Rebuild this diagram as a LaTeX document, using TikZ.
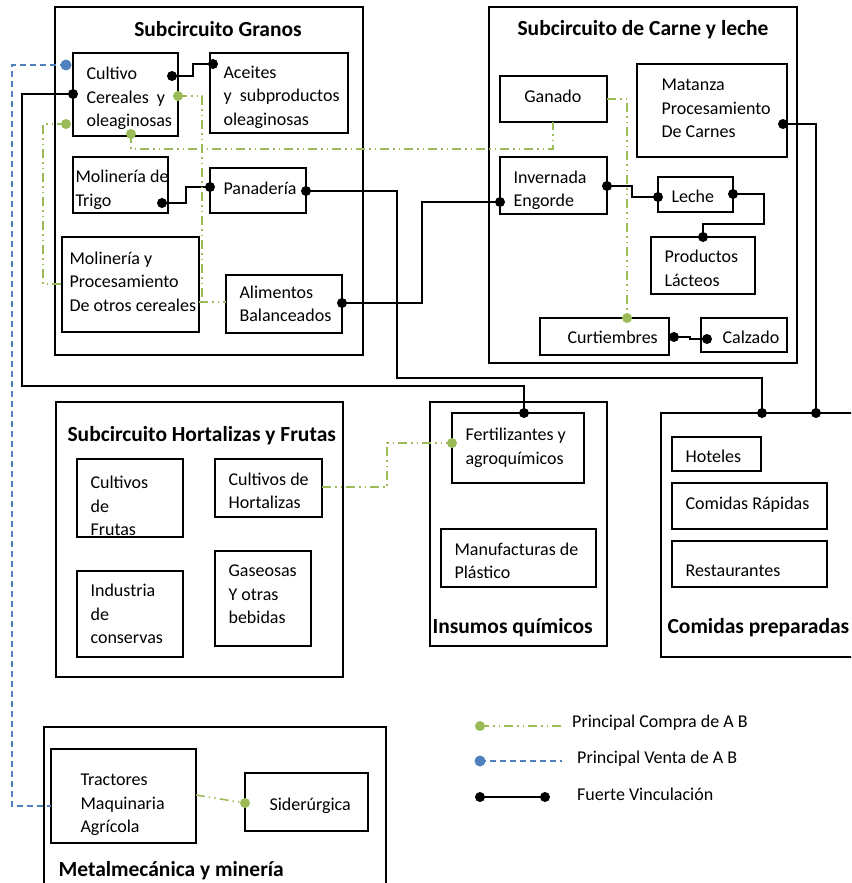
\documentclass[tikz,border=0pt]{standalone}
\usepackage{fontspec}
\setmainfont{Carlito}
\usepackage{tikz}
\usetikzlibrary{fit}
\definecolor{verde}{HTML}{9BBB59}
\definecolor{azul}{HTML}{4F81BD}
\tikzset{
  box/.style={draw=black, line width=1.3pt, fill=white, inner sep=0pt},
  txt/.style={font=\fontsize{18}{23.5}\selectfont, align=left, inner sep=0pt, anchor=west},
  ttl/.style={font=\fontsize{21.5}{25}\selectfont\bfseries, inner sep=0pt},
  fuerte/.style={draw=black, line width=1.6pt},
  compra/.style={draw=verde, line width=1.5pt, dash pattern=on 9pt off 4pt on 1.5pt off 4pt on 1.5pt off 4pt},
  venta/.style={draw=azul, line width=1.5pt, dash pattern=on 6pt off 4pt},
  kdot/.style={circle, fill=black, inner sep=0pt, minimum size=10pt},
  gdot/.style={circle, fill=verde, inner sep=0pt, minimum size=10pt},
  adot/.style={circle, fill=azul, inner sep=0pt, minimum size=11pt},
}
% box from corners, text placed from its west side
\newcommand\bx[7][xshift=14pt]{%
  \node[box, fit={(#3,#4) (#5,#6)}] (#2) {};
  \node[txt, #1] (#2-t) at (#2.west) {#7};}

\begin{document}
\begin{tikzpicture}[x=1pt, y=-1pt]
  \useasboundingbox (0,0) rectangle (851,883);
  \clip (0,0) rectangle (851,883);

  % subcircuitos
  \node[box, fit={(55,7) (363,355)}] (granos) {};
  \node[ttl] (granos-ttl) at ([xshift=9pt,yshift=-23pt]granos.north) {Subcircuito Granos};
  \node[box, fit={(489,7) (797,363)}] (carne) {};
  \node[ttl] (carne-ttl) at ([yshift=-23pt]carne.north) {Subcircuito de Carne y leche};
  \node[box, fit={(56,402) (343,677)}] (hortfr) {};
  \node[ttl, anchor=west] (hortfr-ttl) at ([xshift=12pt,yshift=-34pt]hortfr.north west) {Subcircuito Hortalizas y Frutas};
  \node[box, fit={(430,402) (607,646)}] (insumos) {};
  \node[ttl, anchor=west] (insumos-ttl) at ([xshift=3pt,yshift=19pt]insumos.south west) {Insumos químicos};
  \node[box, fit={(661,413) (880,657)}] (comidas) {};
  \node[ttl, anchor=west] (comidas-ttl) at ([xshift=7pt,yshift=30pt]comidas.south west) {Comidas preparadas};
  \node[box, fit={(44,727) (386,900)}] (metal) {};
  \node[ttl, anchor=west] (metal-ttl) at ([xshift=15pt,yshift=-144pt]metal.north west) {Metalmecánica y minería};

  % granos
  \bx[xshift=14pt, yshift=-4pt]{cult}{73}{53}{178}{136}{Cultivo\\Cereales~ y\\oleaginosas}
  \bx[xshift=14pt, yshift=-4pt]{acei}{210}{53}{348}{133}{Aceites\\y~ subproductos\\oleaginosas}
  \bx[xshift=3pt, yshift=-5pt]{trig}{73}{157}{168}{213}{Molinería de\\Trigo}
  \bx[xshift=14pt, yshift=2pt]{pana}{210}{168}{306}{213}{Panadería}
  \bx[xshift=8pt, yshift=3pt]{mopr}{62}{237}{199}{332}{Molinería y\\Procesamiento\\De otros cereales}
  \bx{alim}{226}{275}{342}{333}{Alimentos\\Balanceados}
  % carne y leche
  \bx[anchor=center, xshift=53.5pt, yshift=3pt]{gana}{500}{76}{607}{122}{Ganado}
  \bx[xshift=25pt, yshift=2pt]{mata}{637}{64}{787}{157}{Matanza\\Procesamiento\\De Carnes}
  \bx[xshift=14pt, yshift=-5pt]{inve}{500}{157}{607}{214}{Invernada\\Engorde}
  \bx[xshift=14pt, yshift=-2pt]{lech}{658}{177}{733}{212}{Leche}
  \bx[xshift=14pt, yshift=-3pt]{prod}{651}{237}{755}{294}{Productos\\Lácteos}
  \bx[xshift=28pt, yshift=-1pt]{curt}{540}{318}{669}{355}{Curtiembres}
  \bx[xshift=22pt, yshift=-2pt]{calz}{701}{318}{787}{352}{Calzado}
  % hortalizas y frutas
  \bx[xshift=14pt, yshift=-8pt]{frut}{77}{459}{183}{537}{Cultivos\\de\\Frutas}
  \bx[xshift=14pt, yshift=-3pt]{hort}{215}{459}{322}{517}{Cultivos de\\Hortalizas}
  \bx{indu}{77}{571}{183}{657}{Industria\\de\\conservas}
  \bx[xshift=14pt, yshift=4pt]{gase}{215}{551}{311}{646}{Gaseosas\\Y otras\\bebidas}
  % insumos, comidas, metal
  \bx{fert}{452}{413}{584}{483}{Fertilizantes y\\agroquímicos}
  \bx[xshift=14pt, yshift=-3pt]{manu}{441}{529}{596}{587}{Manufacturas de\\Plástico}
  \bx[xshift=14pt, yshift=-2pt]{hote}{672}{437}{761}{471}{Hoteles}
  \bx[xshift=14pt, yshift=1pt]{rapi}{672}{483}{827}{529}{Comidas Rápidas}
  \bx[xshift=14pt, yshift=-7pt]{rest}{672}{541}{827}{587}{Restaurantes}
  \bx[xshift=30pt, yshift=-9pt]{trac}{51}{749}{196}{843}{Tractores\\Maquinaria\\Agrícola}
  \bx[xshift=25pt, yshift=-4pt]{side}{245}{773}{368}{831}{Siderúrgica}

  % puntos de vinculacion
  \coordinate (kc1) at (73,94);
  \coordinate (kc2) at (172,76);
  \coordinate (ka) at (213,64);
  \coordinate (kt) at (162,203);
  \coordinate (kp1) at (210,187);
  \coordinate (kp2) at (306,191);
  \coordinate (kal) at (342,303);
  \coordinate (ki1) at (500,202);
  \coordinate (ki2) at (607,186);
  \coordinate (kl1) at (658,197);
  \coordinate (kl2) at (733,194);
  \coordinate (kpl) at (703,237);
  \coordinate (kcu) at (674,337);
  \coordinate (kca) at (707,339);
  \coordinate (km) at (783,124);
  \coordinate (kf) at (524,413);
  \coordinate (kr1) at (762,413);
  \coordinate (kr2) at (816,413);
  \coordinate (gc1) at (178,96);
  \coordinate (gc2) at (66,124);
  \coordinate (gc3) at (131,134);
  \coordinate (gcu) at (627,318);
  \coordinate (gf) at (452,443);
  \coordinate (gs) at (245,803);
  \coordinate (mpw) at (62,284);
  \coordinate (mpe) at (199,302);
  \coordinate (alw) at (226,302);
  \coordinate (gans) at (553,122);
  \coordinate (gane) at (607,99);
  \coordinate (hore) at (322,487);
  \coordinate (trae) at (196,795);
  \coordinate (traw) at (51,806);
  \coordinate (av) at (66,65);

  % fuerte vinculacion
  \draw[fuerte] (kc2) -- ++(21,0) |- (ka);
  \draw[fuerte] (kt) -- ++(24,0) |- (kp1);
  \draw[fuerte] (kp2) -| (397,378) -| (kr1);
  \draw[fuerte] (kc1) -| (22,386) -| (kf);
  \draw[fuerte] (kal) -| (422,202) -- (ki1);
  \draw[fuerte] (ki2) -| (632,197) -- (kl1);
  \draw[fuerte] (kl2) -| (764,224) -| (kpl);
  \draw[fuerte] (kcu) -- ++(16,0) |- (kca);
  \draw[fuerte] (km) -| (kr2);
  % compra
  \draw[compra] (gc1) -| (202,302);
  \draw[compra] (mpe) -- (alw);
  \draw[compra] (gc2) -| (43,284) -- (mpw);
  \draw[compra] (gc3) |- (553,149) -- (gans);
  \draw[compra] (gane) -| (gcu);
  \draw[compra] (hore) -| (387,443) -- (gf);
  \draw[compra] (trae) -- (gs);
  % venta
  \draw[venta] (av) -| (12,806) -- (traw);

  \foreach \p in {kc1,kc2,ka,kt,kp1,kp2,kal,ki1,ki2,kl1,kl2,kpl,kcu,kca,km,kf,kr1,kr2}
    \node[kdot] (\p-o) at (\p) {};
  \foreach \p in {gc1,gc2,gc3,gcu,gf,gs}
    \node[gdot] (\p-o) at (\p) {};
  \node[adot] (av-o) at (av) {};

  % leyenda
  \coordinate (lg1) at (480,726);
  \coordinate (lg2) at (562,726);
  \coordinate (lb1) at (480,761);
  \coordinate (lb2) at (562,761);
  \coordinate (lk1) at (480,797);
  \coordinate (lk2) at (545,797);
  \draw[compra] (lg1) -- (lg2);
  \draw[venta] (lb1) -- (lb2);
  \draw[fuerte] (lk1) -- (lk2);
  \node[gdot] (lg1-o) at (lg1) {};
  \node[adot] (lb1-o) at (lb1) {};
  \node[kdot] (lk1-o) at (lk1) {};
  \node[kdot] (lk2-o) at (lk2) {};
  \node[txt] (leg1) at (572,723) {Principal Compra de A B};
  \node[txt] (leg2) at (577,759) {Principal Venta de A B};
  \node[txt] (leg3) at (577,794) {Fuerte Vinculación};
\end{tikzpicture}
\end{document}
